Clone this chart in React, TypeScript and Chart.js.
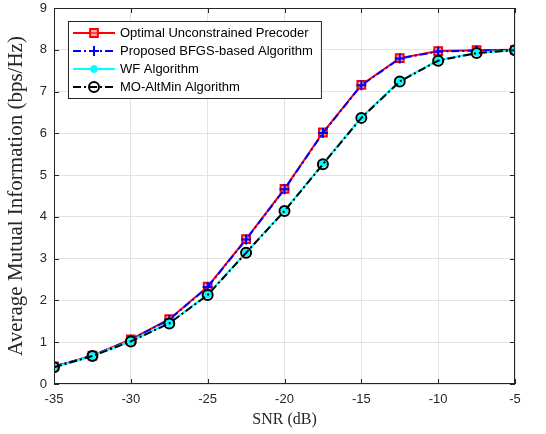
import React, { useEffect, useRef } from "react";
import { Chart, registerables } from "chart.js";
Chart.register(...registerables);

const snr = [-35, -32.5, -30, -27.5, -25, -22.5, -20, -17.5, -15, -12.5, -10, -7.5, -5];
const optimal = [0.42, 0.68, 1.07, 1.55, 2.33, 3.47, 4.67, 6.02, 7.16, 7.8, 7.97, 7.99, 8.0];
const bfgs = [0.42, 0.68, 1.06, 1.54, 2.32, 3.46, 4.66, 6.01, 7.15, 7.79, 7.96, 7.98, 8.0];
const wf = [0.4, 0.67, 1.03, 1.46, 2.14, 3.15, 4.15, 5.27, 6.38, 7.25, 7.75, 7.93, 7.99];
const moAltMin = [0.4, 0.67, 1.02, 1.45, 2.13, 3.14, 4.14, 5.26, 6.37, 7.24, 7.74, 7.92, 7.99];
const seriesLabels = [
  "Optimal Unconstrained Precoder",
  "Proposed BFGS-based Algorithm",
  "WF Algorithm",
  "MO-AltMin Algorithm",
];

const dashDot = [8, 3, 2, 3];

const framePlugin = {
  id: "frame",
  afterDatasetsDraw(chart: any) {
    const { ctx, chartArea: a, scales } = chart;
    ctx.save();
    ctx.strokeStyle = "#262626";
    ctx.lineWidth = 1;
    ctx.strokeRect(a.left + 0.5, a.top + 0.5, a.right - a.left - 1, a.bottom - a.top - 1);
    const tl = 5;
    ctx.beginPath();
    scales.x.ticks.forEach((t: any) => {
      const x = Math.round(scales.x.getPixelForValue(t.value)) + 0.5;
      ctx.moveTo(x, a.bottom);
      ctx.lineTo(x, a.bottom - tl);
      ctx.moveTo(x, a.top);
      ctx.lineTo(x, a.top + tl);
    });
    scales.y.ticks.forEach((t: any) => {
      const y = Math.round(scales.y.getPixelForValue(t.value)) + 0.5;
      ctx.moveTo(a.left, y);
      ctx.lineTo(a.left + tl, y);
      ctx.moveTo(a.right, y);
      ctx.lineTo(a.right - tl, y);
    });
    ctx.stroke();
    ctx.restore();
  },
};

const legendPlugin = {
  id: "boxLegend",
  afterDraw(chart: any) {
    const { ctx, chartArea: a } = chart;
    const ds = chart.data.datasets;
    ctx.save();
    ctx.font = "13px 'Liberation Sans', Arial, sans-serif";
    const textW = Math.max(...ds.map((d: any) => ctx.measureText(d.label).width));
    const x0 = a.left + 14;
    const y0 = a.top + 13;
    const rowH = 18;
    const lineLen = 42;
    const w = 5 + lineLen + 5 + textW + 8;
    const h = 77;
    ctx.fillStyle = "#ffffff";
    ctx.fillRect(x0, y0, w, h);
    ctx.strokeStyle = "#262626";
    ctx.lineWidth = 1;
    ctx.strokeRect(x0 + 0.5, y0 + 0.5, w, h);
    ds.forEach((d: any, i: number) => {
      const cy = y0 + 12 + rowH * i;
      const lx = x0 + 5;
      ctx.save();
      ctx.strokeStyle = d.borderColor;
      ctx.lineWidth = d.borderWidth;
      ctx.setLineDash(d.borderDash || []);
      ctx.beginPath();
      ctx.moveTo(lx, cy);
      ctx.lineTo(lx + lineLen, cy);
      ctx.stroke();
      ctx.restore();
      ctx.save();
      ctx.fillStyle = d.pointBackgroundColor;
      ctx.strokeStyle = d.pointBorderColor;
      ctx.lineWidth = d.pointBorderWidth;
      ctx.setLineDash([]);
      ctx.beginPath();
      const px = lx + lineLen / 2;
      const r = d.pointRadius;
      if (d.pointStyle === "rect") {
        const s = Math.SQRT1_2 * r;
        ctx.rect(px - s, cy - s, 2 * s, 2 * s);
        ctx.fill();
        ctx.stroke();
      } else if (d.pointStyle === "cross") {
        ctx.moveTo(px - r, cy);
        ctx.lineTo(px + r, cy);
        ctx.moveTo(px, cy - r);
        ctx.lineTo(px, cy + r);
        ctx.stroke();
      } else {
        ctx.arc(px, cy, r, 0, Math.PI * 2);
        ctx.fill();
        ctx.stroke();
      }
      ctx.restore();
      ctx.fillStyle = "#000000";
      ctx.textBaseline = "middle";
      ctx.textAlign = "left";
      ctx.fillText(d.label, lx + lineLen + 5, cy + 0.5);
    });
    ctx.restore();
  },
};

export default function App() {
  const ref = useRef<HTMLCanvasElement | null>(null);
  useEffect(() => {
    if (!ref.current) return;
    const mk = (vals: number[]) => snr.map((x, i) => ({ x, y: vals[i] }));
    const chart = new Chart(ref.current, {
      type: "line",
      data: {
        datasets: [
          {
            label: seriesLabels[0],
            data: mk(optimal),
            borderColor: "#ff0000",
            borderWidth: 2,
            pointStyle: "rect",
            pointRadius: 5.5,
            pointBorderWidth: 2,
            pointBorderColor: "#ff0000",
            pointBackgroundColor: "rgba(255,120,120,0.6)",
            order: 4,
          } as any,
          {
            label: seriesLabels[1],
            data: mk(bfgs),
            borderColor: "#0000ff",
            borderWidth: 2,
            borderDash: dashDot,
            pointStyle: "cross",
            pointRadius: 5,
            pointBorderWidth: 2,
            pointBorderColor: "#0000ff",
            pointBackgroundColor: "#0000ff",
            order: 3,
          },
          {
            label: seriesLabels[2],
            data: mk(wf),
            borderColor: "#00ffff",
            borderWidth: 2,
            pointStyle: "circle",
            pointRadius: 3.5,
            pointBorderWidth: 1,
            pointBorderColor: "#00ffff",
            pointBackgroundColor: "#00ffff",
            order: 2,
          },
          {
            label: seriesLabels[3],
            data: mk(moAltMin),
            borderColor: "#000000",
            borderWidth: 2,
            borderDash: dashDot,
            pointStyle: "circle",
            pointRadius: 5,
            pointBorderWidth: 2,
            pointBorderColor: "#000000",
            pointBackgroundColor: "rgba(0,0,0,0)",
            order: 1,
          },
        ],
      },
      options: {
        animation: false,
        responsive: false,
        devicePixelRatio: 1,
        layout: { padding: { left: 0, right: 31, top: 8, bottom: 0 } },
        plugins: { legend: { display: false }, tooltip: { enabled: false } },
        scales: {
          x: {
            type: "linear",
            min: -35,
            max: -5,
            ticks: {
              stepSize: 5,
              color: "#262626",
              font: { family: "'Liberation Sans', Arial, sans-serif", size: 13 },
              padding: 8,
              maxRotation: 0,
            },
            grid: { color: "#e3e3e3", drawTicks: false },
            border: { display: false },
            title: {
              display: true,
              text: "SNR (dB)",
              color: "#262626",
              font: { family: "'Liberation Serif', 'Times New Roman', serif", size: 16 },
              padding: { top: 0, bottom: 5 },
            },
            afterFit(scale: any) {
              scale.height = 50;
              scale.paddingLeft = 0;
              scale.paddingRight = 0;
            },
          },
          y: {
            min: 0,
            max: 9,
            ticks: {
              stepSize: 1,
              color: "#262626",
              font: { family: "'Liberation Sans', Arial, sans-serif", size: 13 },
              padding: 7,
            },
            grid: { color: "#e3e3e3", drawTicks: false },
            border: { display: false },
            title: {
              display: true,
              text: "Average Mutual Information (bps/Hz)",
              color: "#262626",
              font: { family: "'Liberation Serif', 'Times New Roman', serif", size: 21 },
              padding: { top: 4, bottom: 0 },
            },
            afterFit(scale: any) {
              scale.width = 54;
              scale.paddingTop = 0;
              scale.paddingBottom = 0;
            },
          },
        },
      },
      plugins: [framePlugin, legendPlugin],
    } as any);
    return () => chart.destroy();
  }, []);
  return (
    <div style={{ position: "fixed", left: 0, top: 0, width: 546, height: 434, background: "#fff" }}>
      <canvas ref={ref} width={546} height={434} style={{ width: 546, height: 434 }} />
    </div>
  );
}
